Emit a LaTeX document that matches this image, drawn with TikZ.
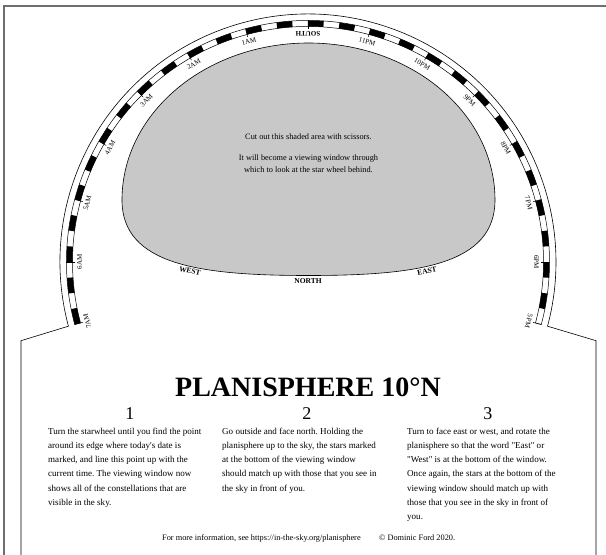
\documentclass[tikz,border=0pt]{standalone}
\usepackage{fontspec}
\setmainfont{Liberation Serif}[Ligatures=TeXOff]
\definecolor{wingray}{RGB}{200,200,200}
\definecolor{framecol}{RGB}{110,110,110}
\frenchspacing
\begin{document}
\begin{tikzpicture}[x=1pt,y=1pt,
  hourlab/.style={inner sep=0pt, font=\fontsize{7}{8}\selectfont},
  dirlab/.style={inner sep=0pt, font=\fontsize{7.5}{8}\selectfont\bfseries},
  coltext/.style={anchor=north west, align=left, inner sep=0pt, font=\fontsize{9.05}{14.1}\selectfont},
  numlab/.style={anchor=base, inner sep=0pt, font=\fontsize{18}{20}\selectfont},
  smalltext/.style={anchor=base, inner sep=0pt, font=\fontsize{8.3}{10}\selectfont},
  thinline/.style={line width=0.6pt}]
\useasboundingbox (-308,-293) rectangle (298,262);
\fill[white] (-308,-293) rectangle (298,262);
% page frame
\draw[framecol, line width=1.2pt] (298,256) -- (-304,256) -- (-304,-293);
% viewing window
\filldraw[fill=wingray, draw=black, thinline] (187,62) arc[start angle=0,end angle=180,x radius=186.5,y radius=157]
  .. controls (-186,-3) and (-108,-13.5) .. (0.5,-13.5)
  .. controls (109,-13.5) and (187,-3) .. (187,62) -- cycle;
% cut outline
\coordinate (bl) at (-287,-293);
\coordinate (kl) at (-287,-78.7);
\coordinate (kr) at (288,-78.7);
\coordinate (br) at (288,-293);
\draw[thinline] (bl) -- (kl) -- (195:248) arc[start angle=195,end angle=-15,radius=248] -- (kr) -- (br);
% hour band
\draw[line width=0.5pt] (195:241.5) arc[start angle=195,end angle=-15,radius=241.5]
  -- (-15:235.5) arc[start angle=-15,end angle=195,radius=235.5] -- cycle;
\foreach \k in {-13,...,14}{
  \pgfmathsetmacro\aa{90+7.5*\k}
  \pgfmathsetmacro\ab{\aa-3.75}
  \fill (\ab:235.5) arc[start angle=\ab,end angle=\aa,radius=235.5]
    -- (\aa:241.5) arc[start angle=\aa,end angle=\ab,radius=241.5] -- cycle;
}
\foreach \n in {-7,...,7}{
  \draw[line width=0.5pt] ({90+15*\n}:241.5) -- ({90+15*\n}:233);
}
\foreach \n/\t in {7/7AM,6/6AM,5/5AM,4/4AM,3/3AM,2/2AM,1/1AM,-1/11PM,-2/10PM,-3/9PM,-4/8PM,-5/7PM,-6/6PM,-7/5PM}{
  \node[hourlab, rotate={15*\n}, anchor=north] (h\n) at ({90+15*\n}:231) {\t};
}
\node[hourlab, font=\fontsize{7}{8}\selectfont\bfseries, rotate=180, anchor=south] (south) at (90:231) {SOUTH};
% window labels
\node[dirlab, rotate=-12] (west) at (-118,-9) {WEST};
\node[dirlab] (north) at (0,-19.5) {NORTH};
\node[dirlab, rotate=12] (east) at (119,-9) {EAST};
\node[smalltext] (w1) at (0.5,122.7) {Cut out this shaded area with scissors.};
\node[smalltext] (w2) at (0.5,101.8) {It will become a viewing window through};
\node[smalltext] (w3) at (0.5,90) {which to look at the star wheel behind.};
% title
\node[anchor=base, inner sep=0pt, font=\fontsize{28}{30}\selectfont\bfseries] (title) at (0,-134) {PLANISPHERE 10°N};
% steps
\node[numlab] (n1) at (-178,-157) {1};
\node[numlab] (n2) at (-1,-157) {2};
\node[numlab] (n3) at (180,-157) {3};
\node[coltext] (c1) at (-260,-162.6) {\strut Turn the starwheel until you find the point\\
around its edge where today's date is\\
marked, and line this point up with the\\
current time. The viewing window now\\
shows all of the constellations that are\\
visible in the sky.};
\node[coltext] (c2) at (-86,-162.6) {\strut Go outside and face north. Holding the\\
planisphere up to the sky, the stars marked\\
at the bottom of the viewing window\\
should match up with those that you see in\\
the sky in front of you.};
\node[coltext] (c3) at (99,-162.6) {\strut Turn to face east or west, and rotate the\\
planisphere so that the word "East" or\\
"West" is at the bottom of the window.\\
Once again, the stars at the bottom of the\\
viewing window should match up with\\
those that you see in the sky in front of\\
you.};
% footer
\node[smalltext, anchor=base west] (f1) at (-146,-278) {For more information, see https://in-the-sky.org/planisphere};
\node[smalltext, anchor=base west] (f2) at (71,-278) {© Dominic Ford 2020.};
\end{tikzpicture}
\end{document}
